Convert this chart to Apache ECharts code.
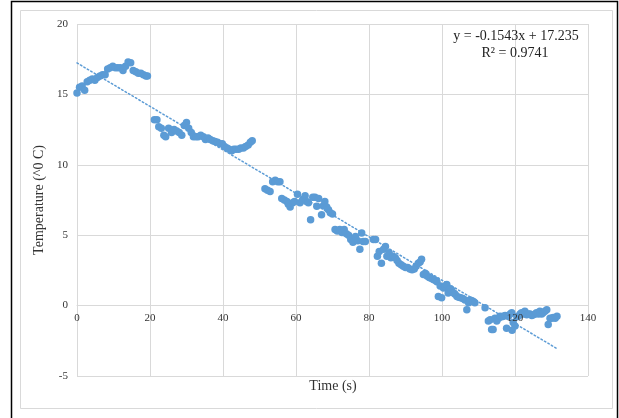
<!DOCTYPE html>
<html>
<head>
<meta charset="utf-8">
<script src="https://cdn.jsdelivr.net/npm/echarts@6/dist/echarts.min.js"></script>
<style>
html,body{margin:0;padding:0;background:#fff;}
#c{width:619px;height:418px;}
</style>
</head>
<body>
<div id="c"></div>
<script>
// Time (s)
var timeValues = [
0.0,0.7,1.4,2.1,2.8,3.5,4.2,4.9,5.6,6.3,7.0,7.7,8.4,9.1,9.8,10.5,11.2,11.9,12.6,13.3,14.0,14.7,15.4,16.1,16.8,17.5,18.2,18.9,19.3,
21.2,21.9,22.4,23.1,23.8,24.3,25.1,25.9,26.6,27.3,28.0,28.7,29.4,30.0,30.6,31.3,31.9,32.6,33.2,33.9,34.6,35.2,35.9,36.5,37.2,37.8,38.5,39.2,39.8,40.4,41.1,41.7,42.4,43.0,43.6,44.3,44.9,45.6,46.2,46.9,47.5,48.0,
51.5,52.2,52.9,53.6,54.3,55.0,55.6,56.1,56.8,57.5,57.9,58.4,59.1,59.6,60.4,61.1,61.8,62.5,62.9,63.4,64.0,64.6,65.2,65.7,66.2,67.0,67.5,67.9,68.4,68.9,69.4,70.0,70.7,71.3,72.0,72.6,73.2,73.8,74.4,75.0,75.6,76.3,76.9,77.5,78.0,78.4,
79.0,81.2,81.8,82.3,82.8,83.4,84.0,84.5,84.9,85.5,86.0,86.6,87.2,87.7,88.2,88.8,89.4,90.0,90.6,91.2,91.8,92.4,92.9,93.5,94.0,94.4,94.9,95.4,95.9,96.5,97.0,97.6,98.1,98.6,99.0,99.5,99.9,100.4,100.9,101.3,101.7,102.2,102.6,103.2,103.6,104.1,104.6,105.1,105.7,106.3,106.8,107.3,107.7,108.2,108.6,109.0,
111.8,112.7,113.2,113.6,114.0,114.5,115.0,115.5,115.9,116.4,116.8,117.3,117.7,118.2,118.7,119.1,119.5,120.0,119.2,120.5,120.9,121.4,121.8,122.3,122.7,123.2,123.7,124.1,124.6,125.0,125.5,125.9,126.4,126.8,127.3,127.7,128.2,128.7,129.1,129.6,130.0,130.5,131.0,131.5
];
// Temperature (^0 C)
var tempValues = [
15.1,15.5,15.6,15.3,15.9,16.0,16.1,16.0,16.2,16.3,16.4,16.4,16.8,16.9,17.0,16.9,16.9,16.9,16.7,17.0,17.3,17.25,16.7,16.6,16.5,16.5,16.4,16.3,16.3,
13.2,13.2,12.7,12.6,12.1,12.0,12.6,12.3,12.5,12.4,12.3,12.1,12.8,13.0,12.6,12.3,12.0,12.0,12.0,12.1,12.0,11.8,11.9,11.8,11.7,11.65,11.6,11.5,11.5,11.3,11.2,11.1,11.0,11.1,11.1,11.1,11.2,11.2,11.3,11.4,11.6,11.7,
8.3,8.2,8.1,8.8,8.9,8.8,8.8,7.6,7.5,7.4,7.2,7.0,7.3,7.4,7.9,7.3,7.5,7.8,7.4,7.3,6.1,7.7,7.7,7.05,7.6,6.45,7.1,7.4,7.0,6.8,6.6,6.5,5.4,5.3,5.4,5.2,5.4,5.1,5.0,4.7,4.5,4.9,4.6,4.0,5.15,4.55,
4.55,4.7,4.7,3.5,3.85,3.0,4.0,4.2,3.5,3.75,3.4,3.5,3.4,3.2,3.0,2.9,2.8,2.7,2.7,2.6,2.55,2.6,2.8,3.0,3.1,3.3,2.2,2.3,2.1,2.0,1.95,1.85,1.8,1.7,0.65,1.4,0.55,1.25,1.4,1.5,0.9,1.2,1.1,0.9,0.8,0.65,0.6,0.55,0.5,0.4,-0.3,0.2,0.4,0.35,0.3,0.2,
-0.15,-1.1,-1.0,-1.7,-1.7,-0.9,-1.1,-0.9,-0.75,-0.8,-0.75,-0.7,-1.6,-0.75,-0.6,-0.5,-1.2,-1.45,-1.75,-0.8,-0.75,-0.6,-0.5,-0.6,-0.4,-0.65,-0.6,-0.6,-0.7,-0.65,-0.6,-0.5,-0.6,-0.4,-0.6,-0.5,-0.4,-0.3,-1.35,-0.9,-0.9,-0.85,-0.9,-0.75
];
// Linear trendline endpoints
var trendX = [0, 131.5];
var trendY = [17.235, -3.055];
var xTicks = [0, 20, 40, 60, 80, 100, 120, 140];
var yTicks = [-5, 0, 5, 10, 15, 20];
var equationText = 'y = -0.1543x + 17.235';
var r2Text = 'R² = 0.9741';
var xTitle = 'Time (s)';
var yTitle = 'Temperature (^0 C)';

var scatterData = timeValues.map(function (t, i) { return [t, tempValues[i]]; });
var trendData = trendX.map(function (t, i) { return [t, trendY[i]]; });

var FONT = '"Liberation Serif", "Times New Roman", serif';
var GRID = '#d9d9d9';
var BLUE = '#5b9bd5';
var gridTop = 24, gridBottom = 42, chartH = 418;

// the x axis crosses the y axis at 0: distance (in px) from the plot bottom to y = 0
var plotH = chartH - gridTop - gridBottom;
var xMin = xTicks[0], xMax = xTicks[xTicks.length - 1];
var yMin = yTicks[0], yMax = yTicks[yTicks.length - 1];
var zeroOffset = -plotH * (0 - yMin) / (yMax - yMin);

var chart = echarts.init(document.getElementById('c'), null, {renderer: 'canvas'});
chart.setOption({
  animation: false,
  backgroundColor: '#fff',
  grid: {left: 77, right: 31, top: gridTop, bottom: gridBottom, containLabel: false},
  xAxis: [{
    type: 'value', min: xMin, max: xMax, interval: 20,
    position: 'bottom', offset: zeroOffset, z: 0,
    axisLine: {show: true, onZero: false, lineStyle: {color: GRID, width: 1}},
    axisTick: {show: false},
    axisLabel: {show: false},
    splitLine: {show: true, lineStyle: {color: GRID, width: 1}}
  }, {
    type: 'value', min: xMin, max: xMax, interval: 20,
    position: 'bottom', offset: zeroOffset, z: 10,
    axisLine: {show: false, onZero: false},
    axisTick: {show: false},
    axisLabel: {fontFamily: FONT, fontSize: 11, color: '#333', margin: 7},
    splitLine: {show: false}
  }],
  yAxis: {
    type: 'value', min: yMin, max: yMax, interval: 5,
    name: yTitle, nameLocation: 'middle', nameGap: 27,
    nameTextStyle: {fontFamily: FONT, fontSize: 14, color: '#333'},
    axisLine: {show: false, onZero: false},
    axisTick: {show: false},
    axisLabel: {fontFamily: FONT, fontSize: 11, color: '#333', margin: 9},
    splitLine: {show: true, lineStyle: {color: GRID, width: 1}}
  },
  graphic: [
    {type: 'rect', shape: {x: 11.5, y: 1.5, width: 606, height: 425}, style: {fill: 'none', stroke: '#000', lineWidth: 1.5}, silent: true, z: 0},
    {type: 'rect', shape: {x: 20.5, y: 10.5, width: 592, height: 398}, style: {fill: 'none', stroke: GRID, lineWidth: 1}, silent: true, z: 0},
    {type: 'text', style: {text: xTitle, x: 333, y: 386, textAlign: 'center', textVerticalAlign: 'middle', font: '14px ' + FONT, fill: '#333'}, silent: true},
    {type: 'text', style: {text: equationText, x: 516, y: 36, textAlign: 'center', textVerticalAlign: 'middle', font: '14px ' + FONT, fill: '#222'}, silent: true, z: 10},
    {type: 'text', style: {text: r2Text, x: 515, y: 53, textAlign: 'center', textVerticalAlign: 'middle', font: '14px ' + FONT, fill: '#222'}, silent: true, z: 10}
  ],
  series: [
    {
      type: 'scatter', xAxisIndex: 0, data: scatterData, symbol: 'circle', symbolSize: 7.5,
      itemStyle: {color: BLUE, opacity: 1}, z: 3
    },
    {
      type: 'line', xAxisIndex: 0, data: trendData, symbol: 'none', showSymbol: false,
      lineStyle: {color: BLUE, width: 1.5, type: [1.5, 2.5], cap: 'round'}, z: 4
    }
  ]
});
</script>
</body>
</html>
